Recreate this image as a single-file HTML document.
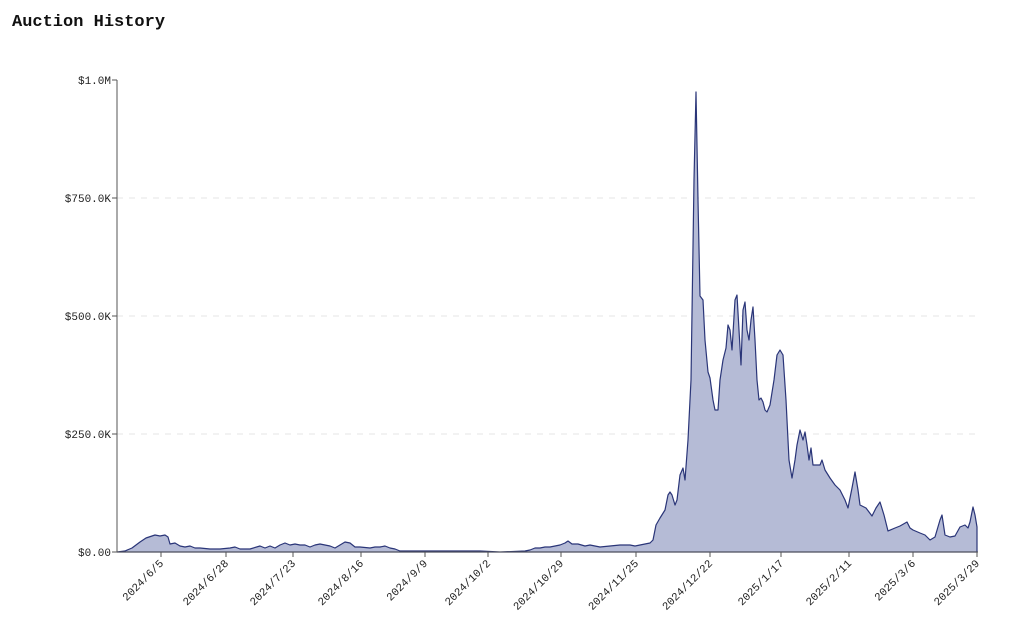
<!DOCTYPE html>
<html><head><meta charset="utf-8"><style>
body{margin:0;background:#fff;width:1024px;height:626px;overflow:hidden}
svg text{font-family:"Liberation Mono",monospace;fill:#222}
</style></head><body>
<svg width="1024" height="626" viewBox="0 0 1024 626">
<text x="12" y="26" style="font-size:17px;font-weight:bold;fill:#111">Auction History</text>
<g stroke="#e6e6e6" stroke-dasharray="6,6" stroke-width="1">
<line x1="117" y1="198" x2="980" y2="198"/><line x1="117" y1="316" x2="980" y2="316"/><line x1="117" y1="434" x2="980" y2="434"/>
</g>
<g font-size="11" text-anchor="end">
<text x="111" y="84">$1.0M</text><text x="111" y="202">$750.0K</text><text x="111" y="320">$500.0K</text><text x="111" y="438">$250.0K</text><text x="111" y="556">$0.00</text>
</g>
<path fill="#b5bbd6" stroke="#2a3578" stroke-width="1.2" stroke-linejoin="round" d="M117,552 L125,551 132,548 140,542 146,538 152,536 155,535 160,536 165,535 168,537 170,544 175,543 180,546 185,547 190,546 195,548 200,548 210,549 220,549 230,548 235,547 240,549 250,549 260,546 265,548 270,546 275,548 280,545 285,543 290,545 295,544 300,545 305,545 310,547 315,545 320,544 325,545 330,546 335,548 340,545 345,542 350,543 355,547 360,547 370,548 375,547 380,547 385,546 390,548 395,549 400,551 420,551 450,551 480,551 500,552 525,551 530,550 535,548 540,548 545,547 550,547 555,546 560,545 565,543 568,541 572,544 578,544 585,546 590,545 595,546 600,547 610,546 620,545 630,545 635,546 640,545 645,544 650,543 653,540 656,525 660,518 665,510 668,495 670,492 672,495 675,505 677,500 680,475 683,468 685,480 688,440 691,380 694,180 696,92 698,200 700,296 703,300 705,340 708,372 710,378 713,400 715,410 718,410 720,380 723,360 726,348 728,325 730,330 732,350 735,300 737,295 739,330 741,365 743,310 745,302 747,330 749,340 751,320 753,307 755,340 757,380 759,400 761,398 763,402 765,410 767,412 770,405 774,380 777,355 780,350 783,355 786,400 789,460 792,478 795,460 797,445 800,430 803,440 805,432 807,445 809,460 811,448 813,465 820,465 822,460 825,470 830,478 835,485 840,490 845,500 848,508 852,488 855,472 858,490 860,505 866,508 872,516 876,508 880,502 884,515 888,531 895,528 900,526 907,522 910,528 913,530 920,533 925,535 930,540 935,537 940,520 942,515 945,535 950,537 955,536 960,527 965,525 968,528 970,522 973,507 975,515 977,527 L977,552 Z"/>
<line x1="117" y1="80" x2="117" y2="552" stroke="#555" stroke-width="1"/>
<line x1="117" y1="552" x2="978" y2="552" stroke="#555" stroke-width="1"/>
<g stroke="#555"><line x1="117" y1="80" x2="112" y2="80"/><line x1="117" y1="198" x2="112" y2="198"/><line x1="117" y1="316" x2="112" y2="316"/><line x1="117" y1="434" x2="112" y2="434"/><line x1="117" y1="552" x2="112" y2="552"/>
<line x1="161" y1="552" x2="161" y2="557"/><line x1="226" y1="552" x2="226" y2="557"/><line x1="293" y1="552" x2="293" y2="557"/><line x1="361" y1="552" x2="361" y2="557"/><line x1="425" y1="552" x2="425" y2="557"/><line x1="488" y1="552" x2="488" y2="557"/><line x1="561" y1="552" x2="561" y2="557"/><line x1="636" y1="552" x2="636" y2="557"/><line x1="710" y1="552" x2="710" y2="557"/><line x1="781" y1="552" x2="781" y2="557"/><line x1="849" y1="552" x2="849" y2="557"/><line x1="913" y1="552" x2="913" y2="557"/><line x1="977" y1="552" x2="977" y2="557"/></g>
<g font-size="11" text-anchor="end">
<text transform="translate(164,564) rotate(-45)">2024/6/5</text>
<text transform="translate(229,564) rotate(-45)">2024/6/28</text>
<text transform="translate(296,564) rotate(-45)">2024/7/23</text>
<text transform="translate(364,564) rotate(-45)">2024/8/16</text>
<text transform="translate(428,564) rotate(-45)">2024/9/9</text>
<text transform="translate(491,564) rotate(-45)">2024/10/2</text>
<text transform="translate(564,564) rotate(-45)">2024/10/29</text>
<text transform="translate(639,564) rotate(-45)">2024/11/25</text>
<text transform="translate(713,564) rotate(-45)">2024/12/22</text>
<text transform="translate(784,564) rotate(-45)">2025/1/17</text>
<text transform="translate(852,564) rotate(-45)">2025/2/11</text>
<text transform="translate(916,564) rotate(-45)">2025/3/6</text>
<text transform="translate(980,564) rotate(-45)">2025/3/29</text>
</g>
</svg>
</body></html>
